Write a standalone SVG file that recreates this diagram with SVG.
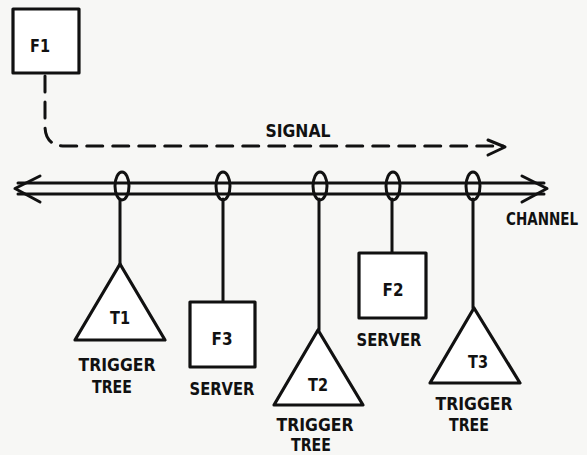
<svg xmlns="http://www.w3.org/2000/svg" width="587" height="455" viewBox="0 0 587 455">
<style>
.ln{fill:none;stroke:#111;stroke-width:3;stroke-linejoin:round;stroke-linecap:round}
.sh{fill:#fff;stroke:#111;stroke-width:3.2;stroke-linejoin:round}
.t{font-family:"DejaVu Sans Condensed","DejaVu Sans","Liberation Sans",sans-serif;font-weight:bold;font-size:18px;fill:#111;text-anchor:middle}
</style>
<rect width="587" height="455" fill="#f7f7f5"/>
<g id="connectors">
<path class="ln" d="M45,76 V126 Q45,146 65,146 H503" stroke-dasharray="16 10" stroke-width="3.5"/>
<path class="ln" d="M488,140 L505,147 L488,155"/>
<line class="ln" x1="18" y1="183" x2="544" y2="183"/>
<line class="ln" x1="18" y1="194" x2="544" y2="194"/>
<path class="ln" d="M40,176 L15,188.5 L40,202"/>
<path class="ln" d="M522,176 L547,188.5 L522,202"/>
<ellipse class="ln" cx="122" cy="186" rx="7" ry="14"/>
<ellipse class="ln" cx="223" cy="186" rx="7" ry="14"/>
<ellipse class="ln" cx="320" cy="186" rx="7" ry="14"/>
<ellipse class="ln" cx="393" cy="186" rx="7" ry="14"/>
<ellipse class="ln" cx="473" cy="186" rx="7" ry="14"/>
<line class="ln" x1="120" y1="199" x2="120" y2="264"/>
<line class="ln" x1="223" y1="199" x2="223" y2="302"/>
<line class="ln" x1="319" y1="199" x2="319" y2="330"/>
<line class="ln" x1="392" y1="199" x2="392" y2="253"/>
<line class="ln" x1="473" y1="199" x2="473" y2="308"/>
<text class="t" x="298" y="137" textLength="65" lengthAdjust="spacingAndGlyphs">SIGNAL</text>
<text class="t" transform="translate(542,225) scale(0.8,1)" x="0" y="0" textLength="90" lengthAdjust="spacingAndGlyphs">CHANNEL</text>
</g>
<g id="F1">
<rect class="sh" x="13" y="9" width="66" height="64"/>
<text class="t" x="40" y="52" textLength="20" lengthAdjust="spacingAndGlyphs">F1</text>
</g>
<g id="T1">
<path class="sh" d="M120,264 L165,340 L75,340 Z"/>
<text class="t" x="120" y="324" textLength="20" lengthAdjust="spacingAndGlyphs">T1</text>
<text class="t" x="117" y="371" textLength="77" lengthAdjust="spacingAndGlyphs">TRIGGER</text>
<text class="t" x="112" y="393" textLength="40" lengthAdjust="spacingAndGlyphs">TREE</text>
</g>
<g id="F3">
<rect class="sh" x="190" y="302" width="65" height="65"/>
<text class="t" x="222" y="345" textLength="21" lengthAdjust="spacingAndGlyphs">F3</text>
<text class="t" x="222" y="395" textLength="65" lengthAdjust="spacingAndGlyphs">SERVER</text>
</g>
<g id="T2">
<path class="sh" d="M318,330 L363,405 L274,405 Z"/>
<text class="t" x="318" y="391" textLength="20" lengthAdjust="spacingAndGlyphs">T2</text>
<text class="t" x="315" y="431" textLength="77" lengthAdjust="spacingAndGlyphs">TRIGGER</text>
<text class="t" x="311" y="451" textLength="40" lengthAdjust="spacingAndGlyphs">TREE</text>
</g>
<g id="F2">
<rect class="sh" x="359" y="253" width="67" height="65"/>
<text class="t" x="393" y="296" textLength="21" lengthAdjust="spacingAndGlyphs">F2</text>
<text class="t" x="389" y="346" textLength="65" lengthAdjust="spacingAndGlyphs">SERVER</text>
</g>
<g id="T3">
<path class="sh" d="M474,308 L520,383 L430,383 Z"/>
<text class="t" x="478" y="368" textLength="20" lengthAdjust="spacingAndGlyphs">T3</text>
<text class="t" x="474" y="410" textLength="77" lengthAdjust="spacingAndGlyphs">TRIGGER</text>
<text class="t" x="469" y="431" textLength="40" lengthAdjust="spacingAndGlyphs">TREE</text>
</g>
</svg>
